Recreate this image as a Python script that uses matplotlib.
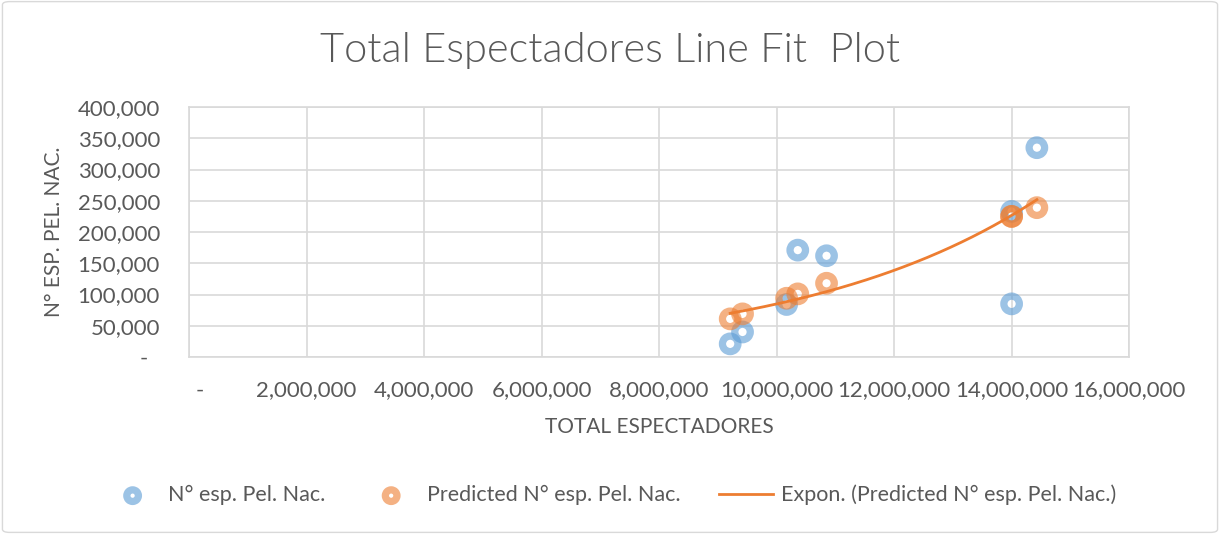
import numpy as np
import matplotlib.pyplot as plt
from matplotlib.patches import FancyBboxPatch
from matplotlib.ticker import FuncFormatter

plt.rcParams['font.family'] = ['Lato', 'DejaVu Sans']

# --- data ---
total_espectadores = [9.21e6, 9.42e6, 10.17e6, 10.36e6, 10.85e6, 14.0e6, 14.0e6, 14.43e6]
esp_pel_nac = [21000, 40000, 84000, 171000, 162000, 233000, 85000, 335000]
predicted = [61000, 69000, 94000, 101000, 118000, 225000, 225000, 239000]

x_ticks = [0, 2e6, 4e6, 6e6, 8e6, 10e6, 12e6, 14e6, 16e6]
y_ticks = [0, 50000, 100000, 150000, 200000, 250000, 300000, 350000, 400000]

GRAY = '#595959'
GRID = '#d9d9d9'
BLUE = '#5B9BD5'
ORANGE = '#ED7D31'

fig = plt.figure(figsize=(12.2, 5.34), dpi=100)
fig.patches.append(FancyBboxPatch((0.002, 0.003), 0.996, 0.994, boxstyle='round,pad=0,rounding_size=0.006',
                                  transform=fig.transFigure, fc='white', ec=GRID, lw=1.0, zorder=-1))
ax = fig.add_axes([0.155, 0.3315, 0.7705, 0.468])
ax.set_facecolor('none')

ring = dict(facecolors='none', s=125, linewidths=5.2, alpha=0.6, zorder=3)
ax.scatter(total_espectadores, esp_pel_nac, edgecolors=BLUE, label='N° esp. Pel. Nac.', **ring)
ax.scatter(total_espectadores, predicted, edgecolors=ORANGE, label='Predicted N° esp. Pel. Nac.', **ring)

# exponential trendline fitted to the predicted series (like Excel's Expon.)
xs = np.array(total_espectadores)
b, a = np.polyfit(xs, np.log(predicted), 1)
xx = np.linspace(xs.min(), xs.max(), 200)
ax.plot(xx, np.exp(a + b * xx), color=ORANGE, lw=2.0, zorder=4,
        label='Expon. (Predicted N° esp. Pel. Nac.)')

ax.set_xlim(0, 16e6)
ax.set_ylim(0, 400000)
ax.set_xticks(x_ticks)
ax.set_yticks(y_ticks)
ax.xaxis.set_major_formatter(FuncFormatter(lambda v, p: '    -' if v == 0 else f'{v:,.0f}'))
ax.yaxis.set_major_formatter(FuncFormatter(lambda v, p: '-  ' if v == 0 else f'{v:,.0f}'))
ax.tick_params(length=0, labelsize=16, labelcolor=GRAY)
ax.tick_params(axis='x', pad=17)
ax.tick_params(axis='y', pad=21)
ax.grid(True, color=GRID, lw=1.2)
for s in ax.spines.values():
    s.set_color(GRID)
    s.set_linewidth(1.2)

ax.set_xlabel('TOTAL ESPECTADORES', fontsize=15, color=GRAY, labelpad=12)
ax.set_ylabel('N° ESP. PEL. NAC.', fontsize=15, color=GRAY, labelpad=10)
fig.text(0.5, 0.905, 'Total Espectadores Line Fit  Plot', ha='center', va='center',
         fontsize=30, color=GRAY, fontweight=300)

leg = fig.legend(loc='center', bbox_to_anchor=(0.501, 0.073), ncol=3, frameon=False,
                 fontsize=15.5, labelcolor=GRAY, columnspacing=1.8, handlelength=2.5,
                 handletextpad=0.4, markerscale=0.75)

fig.savefig('out.png', dpi=100)
